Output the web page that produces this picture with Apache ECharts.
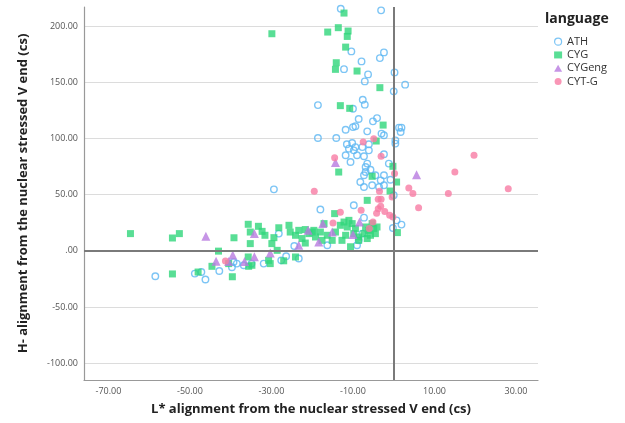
<!DOCTYPE html>
<html>
<head>
<meta charset="utf-8">
<script src="https://cdn.jsdelivr.net/npm/echarts@6/dist/echarts.min.js"></script>
<style>html,body{margin:0;padding:0;background:#fff}#c{width:625px;height:423px}</style>
</head>
<body>
<div id="c"></div>
<script>
const seriesNames = ['ATH', 'CYG', 'CYGeng', 'CYT-G'];
const xTicks = [-70, -50, -30, -10, 10, 30];
const yTicks = [-100, -50, 0, 50, 100, 150, 200];

const athData = [
  [-58.5,-22.7],[-48.8,-20.3],[-47.2,-18.9],[-46.2,-25.6],[-42.8,-18.0],[-39.7,-14.7],[-39.3,-10.0],
  [-38.5,-11.4],[-36.8,-12.9],[-34.9,-11.4],[-31.9,-11.4],[-28.2,15.3],[-27.6,-8.5],[-26.4,-4.9],
  [-23.3,-6.9],[-24.4,4.3],[-29.4,54.7],[-18.0,36.7],
  [-13.0,215.5],[-3.1,214.0],[-10.4,177.5],[-2.4,176.6],[-3.4,171.5],[-7.9,168.6],[-12.2,161.7],
  [-6.3,157.0],[-7.1,150.8],[0.2,158.8],[2.8,147.9],[0.0,141.9],[-18.6,129.7],[-7.6,134.5],
  [-7.1,130.1],[-10.0,126.5],[-8.6,117.3],[-5.1,115.2],[-4.1,118.1],[-11.8,107.8],[-10.0,110.1],
  [-9.4,110.8],[-6.5,106.3],[-3.0,104.3],[-2.4,102.8],[1.3,109.6],[1.9,109.6],[1.7,105.7],
  [-18.6,100.4],[-14.1,100.4],[-11.5,94.8],[-10.2,95.9],[-9.4,92.3],[-6.1,94.8],[0.4,98.3],[0.4,95.4],
  [-11.0,90.9],[-9.8,89.4],[-7.7,92.3],[-6.1,89.4],[-11.8,85.0],[-10.6,79.0],[-9.0,85.0],[-7.3,84.1],
  [-6.5,77.6],[-6.9,74.6],[-6.9,70.1],[-7.3,67.2],[-5.7,72.2],[-4.5,67.2],[-3.2,62.7],[-2.4,67.2],
  [-8.2,61.2],[-7.3,56.8],[-5.3,58.3],[-3.6,56.8],[-2.4,58.3],[-0.8,63.3],[0.0,49.4],[-1.2,77.6],
  [-2.4,85.9],[-9.8,40.5],[-7.3,29.5],[0.7,27.1],[1.9,23.3],[-0.2,20.3],[-16.3,4.9],[-8.6,9.3],
  [-7.7,15.3],[-9.0,4.9]
];
const cygData = [
  [-12.2,211.6],[-13.6,198.6],[-16.2,194.7],[-11.2,195.6],[-11.4,190.8],[-11.8,181.3],[-14.1,167.4],
  [-14.3,161.5],[-9.0,160.0],[-3.4,145.2],[-13.1,129.2],[-10.8,126.8],[-2.6,111.9],[-4.3,97.7],
  [-29.9,193.2],[-13.5,70.1],[-5.3,66.3],[-0.2,75.2],[0.7,61.2],[-0.9,53.2],[-6.5,44.9],[-14.5,33.1],
  [0.9,16.2],[-10.6,3.6],[-8.6,9.3],
  [-64.6,15.3],[-54.3,11.4],[-52.6,15.3],[-39.2,11.6],[-43.0,-0.3],[-44.6,-13.8],[-54.3,-20.6],
  [-48.0,-18.9],[-39.6,-23.1],[-35.7,23.6],[-33.2,21.8],[-35.2,16.7],[-32.3,17.3],[-31.6,13.8],
  [-29.4,11.7],[-28.2,20.5],[-35.2,6.4],[-29.9,6.4],[-28.6,0.4],[-25.7,22.7],[-25.4,16.7],[-24.1,13.8],
  [-23.3,18.2],[-22.5,10.9],[-19.6,18.2],[-19.2,12.3],[-35.7,-5.5],[-34.8,-12.9],[-35.6,-13.8],
  [-30.3,-11.4],[-27.0,-8.9],[-24.1,-5.5],[-40.5,-11.4],[-30.7,-8.5],[-21.7,6.9],[-20.8,15.3],
  [-21.7,18.9],[-20.0,16.7],[-18.0,16.7],[-17.1,24.2],[-16.3,13.8],[-14.3,16.7],[-13.1,22.7],
  [-12.2,25.6],[-11.4,21.2],[-10.2,24.2],[-9.4,19.8],[-11.8,13.8],[-9.8,15.3],[-8.6,12.3],[-7.3,15.3],
  [-6.5,10.9],[-6.1,18.2],[-4.9,19.8],[-4.5,15.3],[-4.1,21.2],[-5.3,24.2],[-5.7,13.8],[-6.9,21.2],
  [-11.0,27.1],[-12.7,9.3],[-15.1,9.3],[-17.6,9.3]
];
const cygengData = [
  [-46.1,12.9],[-34.2,15.3],[-39.5,-3.7],[-43.6,-9.3],[-40.5,-9.5],[-36.6,-9.5],[-34.2,-5.2],
  [-30.3,-2.0],[-23.3,4.9],[-21.0,18.2],[-18.4,7.8],[-17.4,24.2],[-8.4,25.6],[-15.1,16.7],
  [-10.0,14.4],[-14.3,78.5],[5.6,67.8]
];
const cytgData = [
  [-7.5,96.8],[-4.9,99.8],[-14.5,82.9],[-3.1,84.1],[0.2,68.7],[-19.5,52.9],[-3.5,52.9],[-3.8,45.8],
  [-3.1,45.8],[-0.4,47.9],[-13.1,34.3],[-8.0,36.0],[-3.8,37.4],[-3.2,39.6],[-4.2,33.4],[-2.2,34.9],
  [-1.0,31.6],[-0.2,30.1],[-14.9,24.7],[-5.1,25.6],[-6.0,19.8],[3.7,56.0],[4.7,50.9],[6.1,38.4],
  [19.7,85.0],[15.0,70.1],[28.1,55.3],[13.4,50.9],[-41.3,-9.1]
];

function fmt(v) {
  let s = Number(v).toFixed(2);
  if (s === '0.00' || s === '-0.00') s = '.00';
  return s;
}

const chart = echarts.init(document.getElementById('c'), null, {renderer: 'canvas'});
const fontFam = '"Open Sans", "DejaVu Sans", sans-serif';
chart.setOption({
  animation: false,
  backgroundColor: '#fff',
  textStyle: {fontFamily: fontFam},
  grid: {left: 84, right: 87, top: 7, bottom: 43, containLabel: false},
  graphic: [{
    type: 'text', left: 545, top: 12,
    style: {text: 'language', font: 'bold 14px ' + fontFam, fill: '#222'}
  }],
  legend: {
    orient: 'vertical', left: 549, top: 30, itemWidth: 8, itemHeight: 7, itemGap: 0,
    textStyle: {fontSize: 11, color: '#333', lineHeight: 13.3},
    data: [
      {name: 'ATH', itemStyle: {borderWidth: 1.2}},
      'CYG', 'CYGeng', 'CYT-G'
    ]
  },
  xAxis: {
    type: 'value', min: -76, max: 35.4,
    axisLine: {show: true, onZero: false, lineStyle: {color: '#999', width: 1.2}},
    axisTick: {show: false, customValues: xTicks},
    splitLine: {show: false},
    axisLabel: {customValues: xTicks, formatter: fmt, fontSize: 9, color: '#555', margin: 7},
    name: 'L* alignment from the nuclear stressed V end (cs)',
    nameLocation: 'middle', nameGap: 23,
    nameTextStyle: {fontSize: 13, fontWeight: 'bold', color: '#222'}
  },
  yAxis: {
    type: 'value', min: -115, max: 217,
    axisLine: {show: true, onZero: false, lineStyle: {color: '#999', width: 1.2}},
    axisTick: {show: false, customValues: yTicks},
    splitLine: {show: true, lineStyle: {color: '#dcdcdc', width: 1}},
    axisLabel: {customValues: yTicks, formatter: fmt, fontSize: 9, color: '#555', margin: 6},
    name: 'H- alignment from the nuclear stressed V end (cs)',
    nameLocation: 'middle', nameGap: 54, nameRotate: 90,
    nameTextStyle: {fontSize: 13, fontWeight: 'bold', color: '#222'}
  },
  series: [
    {
      name: seriesNames[0], type: 'scatter', data: athData, symbol: 'circle', symbolSize: 6.5, z: 3,
      itemStyle: {color: 'rgba(255,255,255,0)', borderColor: '#5db7f2', borderWidth: 1.4},
      markLine: {
        silent: true, symbol: 'none', label: {show: false}, animation: false,
        lineStyle: {color: '#7a7a7a', width: 2, type: 'solid'},
        data: [{xAxis: 0}, {yAxis: 0}]
      }
    },
    {
      name: seriesNames[1], type: 'scatter', data: cygData, symbol: 'rect', symbolSize: 7, z: 3,
      itemStyle: {color: '#2fd67a'}
    },
    {
      name: seriesNames[2], type: 'scatter', data: cygengData, symbol: 'triangle', symbolSize: 9, z: 3,
      itemStyle: {color: '#b87ae0'}
    },
    {
      name: seriesNames[3], type: 'scatter', data: cytgData, symbol: 'circle', symbolSize: 7, z: 3,
      itemStyle: {color: '#f77ca4'}
    }
  ]
});
</script>
</body>
</html>
